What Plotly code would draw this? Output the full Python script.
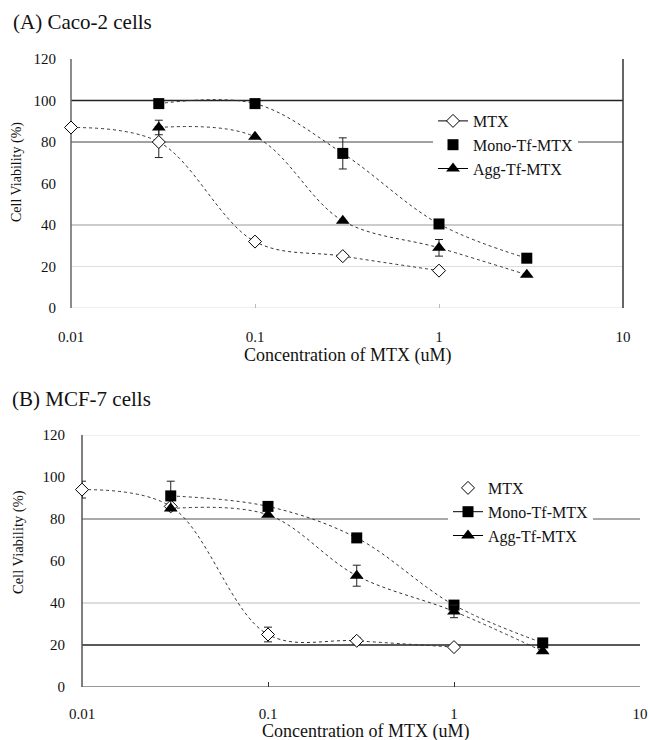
import plotly.graph_objects as go

# ---------------- data ----------------
conc_mtx = [0.01, 0.03, 0.1, 0.3, 1]
conc_tf = [0.03, 0.1, 0.3, 1, 3]

# Panel A: Caco-2 cells
mtx_a = [87, 80, 32, 25, 18]
mtx_a_sd = [0, 7.5, 0, 0, 0]
mono_a = [98.5, 98.5, 74.5, 40.5, 24]
mono_a_sd = [0, 0, 7.5, 0, 0]
agg_a = [87, 82.5, 42, 29, 16]
agg_a_sd = [3.5, 0, 0, 4, 0]

# Panel B: MCF-7 cells
mtx_b = [94, 86, 25, 22, 19]
mtx_b_sd = [4, 0, 3.5, 1.5, 0]
mono_b = [91, 86, 71, 39, 21]
mono_b_sd = [7, 0, 2, 0, 0]
agg_b = [85, 82, 53, 36, 17]
agg_b_sd = [0, 0, 5, 3, 0]

series_names = ["MTX", "Mono-Tf-MTX", "Agg-Tf-MTX"]
x_tickvals = [0.01, 0.1, 1, 10]
x_ticktext = ["0.01", "0.1", "1", "10"]
y_tickvals = [0, 20, 40, 60, 80, 100, 120]

panel_titles = ["(A) Caco-2 cells", "(B) MCF-7 cells"]
x_title = "Concentration of MTX (uM)"
y_title = "Cell Viability (%)"

# ---------------- styling ----------------
FONT = "Liberation Serif"
LINE = dict(color="#333333", width=1, dash="dot", shape="spline")
markers = {
    "MTX": dict(symbol="diamond", size=10, color="white", line=dict(color="black", width=1)),
    "Mono-Tf-MTX": dict(symbol="square", size=11, color="black", line=dict(color="black", width=0)),
    "Agg-Tf-MTX": dict(symbol="triangle-up", size=12, color="black", line=dict(color="black", width=0)),
}


def err(sd):
    return dict(type="data", array=sd, visible=True, color="#222222", thickness=1, width=4)


fig = go.Figure()

panels = [
    ("x", "y", "legend", [(conc_mtx, mtx_a, mtx_a_sd), (conc_tf, mono_a, mono_a_sd), (conc_tf, agg_a, agg_a_sd)],
     {"MTX": "lines+markers", "Mono-Tf-MTX": "markers", "Agg-Tf-MTX": "lines+markers"}),
    ("x2", "y2", "legend2", [(conc_mtx, mtx_b, mtx_b_sd), (conc_tf, mono_b, mono_b_sd), (conc_tf, agg_b, agg_b_sd)],
     {"MTX": "markers", "Mono-Tf-MTX": "lines+markers", "Agg-Tf-MTX": "lines+markers"}),
]

for xa, ya, lg, data, legmodes in panels:
    for name, (xs, ys, sd) in zip(series_names, data):
        fig.add_trace(go.Scatter(
            x=xs, y=ys, mode="lines+markers", name=name,
            line=LINE, marker=markers[name], error_y=err(sd),
            xaxis=xa, yaxis=ya, showlegend=False, cliponaxis=False,
        ))
    for name in series_names:
        fig.add_trace(go.Scatter(
            x=[None], y=[None], mode=legmodes[name], name=name,
            line=dict(color="black", width=1), marker=markers[name],
            xaxis=xa, yaxis=ya, legend=lg, showlegend=True,
        ))

W, H = 649, 740


def px_x(p):
    return p / W


def px_y(p):
    return 1 - p / H


axis_common = dict(showgrid=False, zeroline=False, showline=False, automargin=False,
                   tickfont=dict(family=FONT, size=15, color="#111"))

fig.update_layout(
    width=W, height=H,
    margin=dict(l=0, r=0, t=0, b=0, autoexpand=False),
    paper_bgcolor="white", plot_bgcolor="white",
    font=dict(family=FONT, color="#111"),
    xaxis=dict(domain=[px_x(71), px_x(623)], type="log", range=[-2, 1], anchor="y",
               tickvals=x_tickvals, ticktext=x_ticktext, ticks="inside", ticklen=4,
               tickcolor="#bbbbbb", ticklabelstandoff=18, **axis_common),
    yaxis=dict(domain=[px_y(308), px_y(59)], range=[0, 120], anchor="x",
               tickvals=y_tickvals, ticks="", ticklabelstandoff=14, **axis_common),
    xaxis2=dict(domain=[px_x(82), px_x(640)], type="log", range=[-2, 1], anchor="y2",
                tickvals=x_tickvals, ticktext=x_ticktext, ticks="inside", ticklen=5,
                tickcolor="#333333", ticklabelstandoff=16, **axis_common),
    yaxis2=dict(domain=[px_y(687), px_y(435)], range=[0, 120], anchor="x2",
                tickvals=y_tickvals, ticks="", ticklabelstandoff=16, **axis_common),
    legend=dict(x=px_x(433), y=px_y(104), xanchor="left", yanchor="top",
                bgcolor="white", borderwidth=0, font=dict(family=FONT, size=16, color="#111"),
                tracegroupgap=0, itemwidth=30),
    legend2=dict(x=px_x(448), y=px_y(471), xanchor="left", yanchor="top",
                 bgcolor="white", borderwidth=0, font=dict(family=FONT, size=16, color="#111"),
                 tracegroupgap=0, itemwidth=30),
)

# gridlines / frame lines (drawn in data units via the axes)
grid_a = [(100, "#222222", 1.3), (80, "#444444", 1.2), (40, "#999999", 1.1), (20, "#dddddd", 1), (0, "#dddddd", 1.2)]
grid_b = [(120, "#dddddd", 1), (80, "#555555", 1.1), (40, "#bbbbbb", 1), (20, "#222222", 1.5), (0, "#777777", 1.5)]
shapes = []
for val, col, w in grid_a:
    shapes.append(dict(type="line", xref="x domain", yref="y", x0=0, x1=1, y0=val, y1=val,
                       line=dict(color=col, width=w), layer="below"))
for val, col, w in grid_b:
    shapes.append(dict(type="line", xref="x2 domain", yref="y2", x0=0, x1=1, y0=val, y1=val,
                       line=dict(color=col, width=w), layer="below"))
shapes += [
    dict(type="line", xref="x domain", yref="y domain", x0=0, x1=0, y0=0, y1=1,
         line=dict(color="#666666", width=1.5), layer="below"),
    dict(type="line", xref="x domain", yref="y domain", x0=1, x1=1, y0=0, y1=1,
         line=dict(color="#333333", width=1.5), layer="below"),
    dict(type="line", xref="x2 domain", yref="y2 domain", x0=0, x1=0, y0=0, y1=1,
         line=dict(color="#555555", width=1.5), layer="below"),
]
fig.update_layout(shapes=shapes)

ann = [
    dict(text=panel_titles[0], x=px_x(11), y=px_y(22), xanchor="left", yanchor="middle",
         font=dict(size=21)),
    dict(text=panel_titles[1], x=px_x(10), y=px_y(399), xanchor="left", yanchor="middle",
         font=dict(size=21)),
    dict(text=x_title, x=px_x(347), y=px_y(355), xanchor="center", yanchor="middle",
         font=dict(size=18)),
    dict(text=x_title, x=px_x(365), y=px_y(731), xanchor="center", yanchor="middle",
         font=dict(size=18)),
    dict(text=y_title, x=px_x(17), y=px_y(172), xanchor="center", yanchor="middle",
         textangle=-90, font=dict(size=14)),
    dict(text=y_title, x=px_x(18), y=px_y(542), xanchor="center", yanchor="middle",
         textangle=-90, font=dict(size=14.5)),
]
for a in ann:
    a.update(xref="paper", yref="paper", showarrow=False)
    a["font"].update(family=FONT, color="#111")
fig.update_layout(annotations=ann)

fig.write_html(
    "out.html",
    config={"displayModeBar": False},
    post_script="document.body.style.margin='0';document.body.style.overflow='hidden';",
)
